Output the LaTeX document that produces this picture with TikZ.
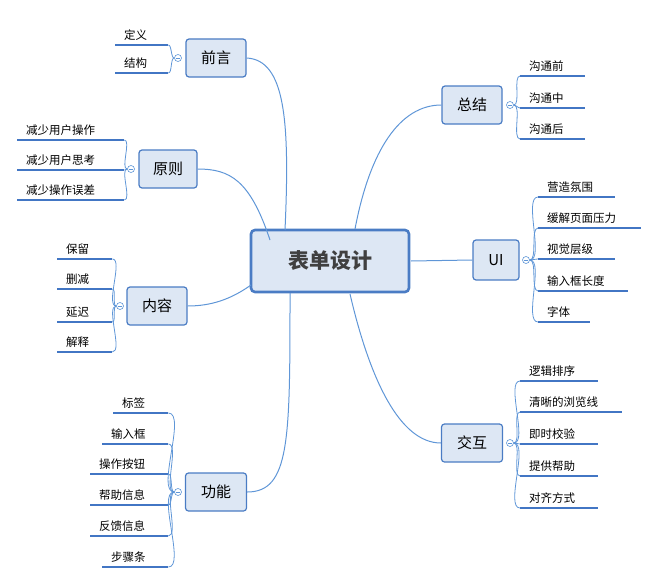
\documentclass[tikz,border=0pt]{standalone}
\usepackage{fontspec}
\newfontfamily\cjk{Noto Sans CJK SC}
\begin{document}
\begin{tikzpicture}[x=1pt,y=-1pt,
  box/.style={draw=boxb,fill=boxf,rounded corners=3pt,line width=1.2pt,minimum height=38pt,font=\cjk\fontsize{15}{17}\selectfont,inner sep=0pt},
  leaf/.style={inner xsep=9pt,inner ysep=4pt,font=\cjk\fontsize{11.5}{13}\selectfont,align=left,anchor=south west},
  uline/.style={draw=lineb,line width=2.2pt},
  br/.style={draw=linec,line width=0.8pt},
  mainl/.style={draw=linec,line width=1pt},
  knob/.style={circle,draw=linec,fill=white,minimum size=7pt,inner sep=0pt,line width=0.6pt,path picture={\draw[linec,line width=0.6pt]([xshift=-2pt]path picture bounding box.center)--([xshift=2pt]path picture bounding box.center);}}]
\definecolor{boxf}{RGB}{221,231,244}
\definecolor{boxb}{RGB}{74,124,196}
\definecolor{lineb}{RGB}{66,118,196}
\definecolor{linec}{RGB}{95,150,215}
\useasboundingbox (0,0) rectangle (658,586);
\newcommand\myleaf[5]{\pgfmathsetmacro\tw{#3-#2-18}\node[leaf,text width=\tw pt] (#1) at (#2,#4) {#5};\draw[uline] (#2,#4)--(#3,#4);}
% center
\node[draw=boxb,fill=boxf,line width=2.6pt,rounded corners=4pt,minimum width=158pt,minimum height=62pt,font=\cjk\bfseries\fontsize{21}{23}\selectfont,text=black!75] (c) at (330,261) {表单设计};
% branches
\node[box,minimum width=60pt] (qy) at (216,58) {前言};
\node[box,minimum width=58pt] (yz) at (168,169) {原则};
\node[box,minimum width=60pt] (nr) at (157,306) {内容};
\node[box,minimum width=61pt] (gn) at (216,492) {功能};
\node[box,minimum width=60pt] (zj) at (472,105) {总结};
\node[box,minimum width=46pt,minimum height=40pt] (ui) at (496,260) {UI};
\node[box,minimum width=61pt] (jh) at (472,443) {交互};
% main connectors
\draw[mainl] (285,230) .. controls (290,120) and (285,60) .. (qy.east);
\draw[mainl] (270,240) .. controls (250,180) and (230,169) .. (yz.east);
\draw[mainl] (251,285) .. controls (230,300) and (210,306) .. (nr.east);
\draw[mainl] (290,293) .. controls (290,440) and (290,492) .. (gn.east);
\draw[mainl] (355,229) .. controls (370,150) and (400,105) .. (zj.west);
\draw[mainl] (411,261) -- (ui.west);
\draw[mainl] (350,294) .. controls (370,380) and (400,443) .. (jh.west);
% knobs
\node[knob] (kqy) at (178,58) {};
\node[knob] (kyz) at (131,169) {};
\node[knob] (knr) at (120,306) {};
\node[knob] (kgn) at (178,492) {};
\node[knob] (kzj) at (510,105) {};
\node[knob] (kui) at (526,260) {};
\node[knob] (kjh) at (510,443) {};
% left leaves
\myleaf{a1}{115}{168}{45}{定义}
\myleaf{a2}{115}{168}{73}{结构}
\foreach \n in {a1,a2}{\draw[br] (kqy.west) to[out=180,in=0,looseness=0.6] (\n.south east);}
\myleaf{b1}{17}{124}{140}{减少用户操作}
\myleaf{b2}{17}{124}{170}{减少用户思考}
\myleaf{b3}{17}{124}{200}{减少操作误差}
\foreach \n in {b1,b2,b3}{\draw[br] (kyz.west) to[out=180,in=0,looseness=0.6] (\n.south east);}
\myleaf{c1}{57}{112}{259}{保留}
\myleaf{c2}{57}{112}{289}{删减}
\myleaf{c3}{57}{112}{322}{延迟}
\myleaf{c4}{57}{112}{352}{解释}
\foreach \n in {c1,c2,c3,c4}{\draw[br] (knr.west) to[out=180,in=0,looseness=0.6] (\n.south east);}
\myleaf{d1}{113}{168}{413}{标签}
\myleaf{d2}{102}{168}{444}{输入框}
\myleaf{d3}{90}{168}{474}{操作按钮}
\myleaf{d4}{90}{168}{505}{帮助信息}
\myleaf{d5}{90}{168}{536}{反馈信息}
\myleaf{d6}{102}{168}{567}{步骤条}
\foreach \n in {d1,d2,d3,d4,d5,d6}{\draw[br] (kgn.west) to[out=180,in=0,looseness=0.6] (\n.south east);}
% right leaves
\myleaf{e1}{520}{585}{76}{沟通前}
\myleaf{e2}{520}{585}{108}{沟通中}
\myleaf{e3}{520}{585}{139}{沟通后}
\foreach \n in {e1,e2,e3}{\draw[br] (kzj.east) to[out=0,in=180,looseness=0.6] (\n.south west);}
\myleaf{f1}{538}{615}{197}{营造氛围}
\myleaf{f2}{538}{641}{228}{缓解页面压力}
\myleaf{f3}{538}{615}{259}{视觉层级}
\myleaf{f4}{538}{628}{291}{输入框长度}
\myleaf{f5}{538}{590}{322}{字体}
\foreach \n in {f1,f2,f3,f4,f5}{\draw[br] (kui.east) to[out=0,in=180,looseness=0.6] (\n.south west);}
\myleaf{g1}{520}{598}{381}{逻辑排序}
\myleaf{g2}{520}{622}{412}{清晰的浏览线}
\myleaf{g3}{520}{598}{444}{即时校验}
\myleaf{g4}{520}{598}{476}{提供帮助}
\myleaf{g5}{520}{598}{508}{对齐方式}
\foreach \n in {g1,g2,g3,g4,g5}{\draw[br] (kjh.east) to[out=0,in=180,looseness=0.6] (\n.south west);}
\end{tikzpicture}
\end{document}
